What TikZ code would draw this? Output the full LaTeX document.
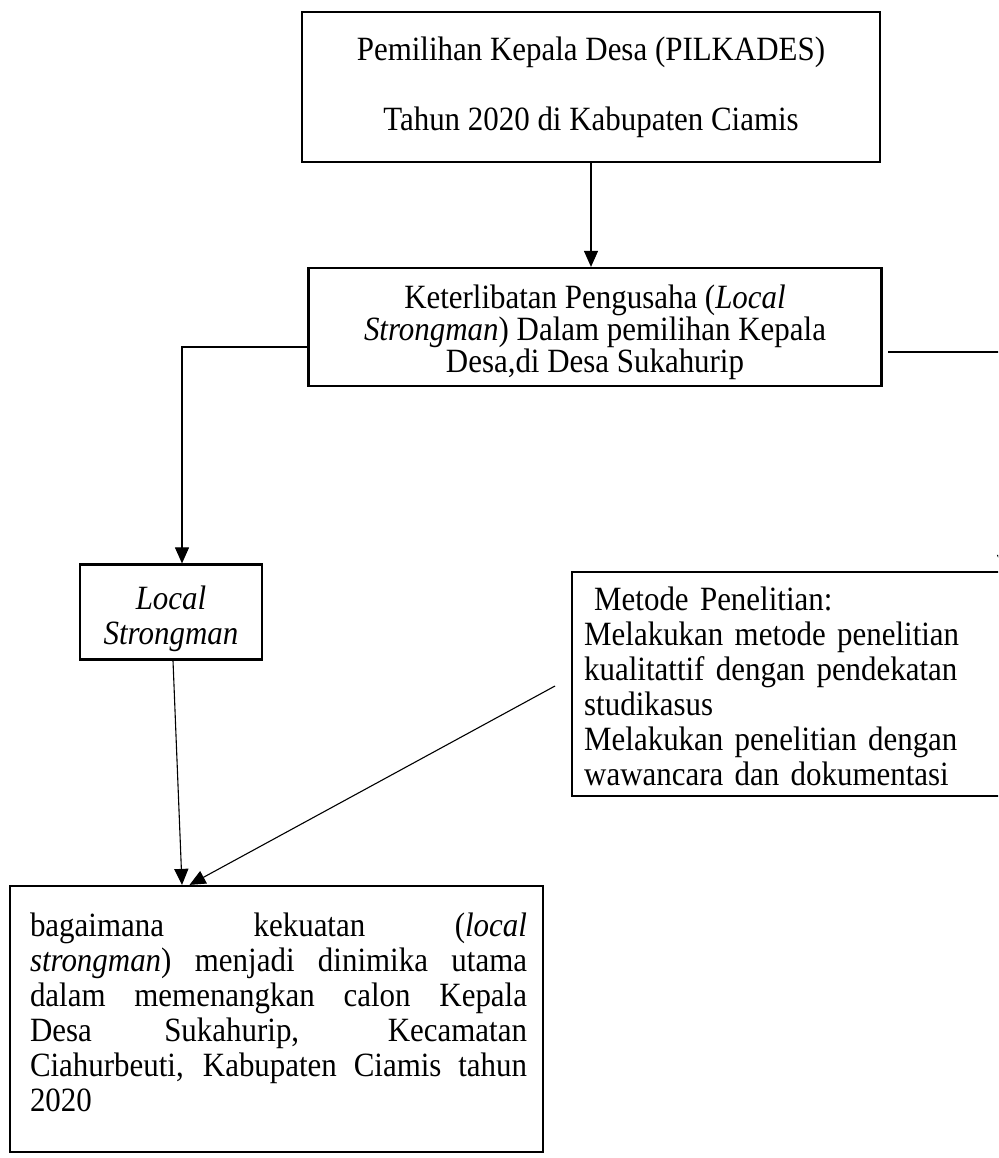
\documentclass[tikz,border=0pt]{standalone}
\usepackage{fontspec}
\setmainfont{Liberation Serif}[FakeStretch=0.91]
\usetikzlibrary{arrows.meta}
\begin{document}
\begin{tikzpicture}[x=1pt,y=-1pt,
  box/.style={draw, line width=2.2pt, inner sep=0pt},
  txt/.style={font=\fontsize{34}{35}\selectfont, inner sep=0pt},
  conn/.style={line width=1.1pt},
  arr/.style={conn, -{Triangle[width=14pt,length=16pt]}}]
\useasboundingbox (0,0) rectangle (998,1158);
\clip (0,0) rectangle (998,1158);
\node[box, txt, minimum width=578, minimum height=150, align=center] (b1) at (591,87)
  {Pemilihan Kepala Desa (PILKADES)\\[35pt]Tahun 2020 di Kabupaten Ciamis};
\node[box, minimum width=573, minimum height=118] (b2) at (595,327) {};
\node[txt, align=center] (b2t) at (595,332)
  {Keterlibatan Pengusaha (\textit{Local}\\[-3pt]\textit{Strongman}) Dalam pemilihan Kepala\\[-3pt]Desa,di Desa Sukahurip};
\node[box, minimum width=182, minimum height=95] (b3) at (171,612) {};
\node[txt, align=center] (b3t) at (171,619) {\textit{Local}\\\textit{Strongman}};
\node[box, minimum width=438, minimum height=224] (b4) at (791,684) {};
\node[txt, anchor=west, text width=410, align=left] (b4t) at (584,686)
  {\hspace*{10pt}Metode Penelitian:\\Melakukan metode penelitian\\kualitattif dengan pendekatan\\studikasus\\Melakukan penelitian dengan\\wawancara dan dokumentasi};
\node[box, minimum width=533, minimum height=266] (b5) at (276.5,1019) {};
\node[txt, text width=497, align=justify] (b5t) at (278.5,1012)
  {bagaimana kekuatan (\textit{local}\linebreak \textit{strongman}) menjadi dinimika utama\linebreak dalam memenangkan calon Kepala\linebreak Desa Sukahurip, Kecamatan\linebreak Ciahurbeuti, Kabupaten Ciamis tahun\linebreak 2020};
\draw[arr] (b1.south) -- (b1.south |- b2.north);
\draw[arr] ([yshift=-20pt]b2.west) -| ([xshift=11pt]b3.north);
\coordinate (r1) at (888,352);
\coordinate (r2) at (1004,352);
\draw[arr] (r1) -- (r2) -- (r2 |- b4.north);
\draw[arr] ([xshift=2pt]b3.south) -- ([xshift=-94.5pt]b5.north);
\coordinate (m1) at (555,686);
\draw[arr] (m1) -- ([xshift=-87pt]b5.north);
\end{tikzpicture}
\end{document}
